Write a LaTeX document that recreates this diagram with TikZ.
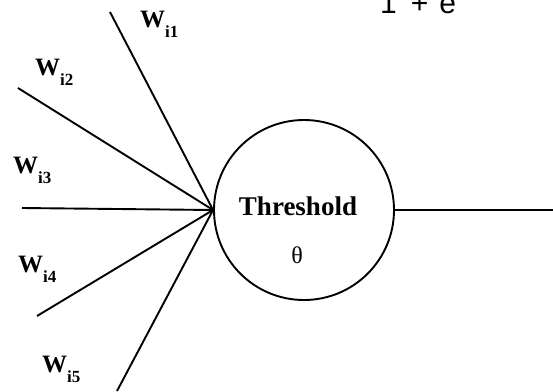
\documentclass[tikz,border=0pt]{standalone}
\usepackage{fontspec}
\setmainfont{Liberation Serif}
\newfontfamily\sigfont{Liberation Sans}
\usetikzlibrary{positioning}
\newcommand{\wsub}[1]{\textbf{W\raisebox{-10pt}{\fontsize{17}{17}\selectfont i#1}}}

\begin{document}
\begin{tikzpicture}[x=1pt,y=-1pt,
  wire/.style={line width=1.9pt},
  wlabel/.style={anchor=base west,inner sep=0pt,font=\fontsize{25}{25}\selectfont},
  unit/.style={circle,draw,line width=1.9pt,minimum size=180pt,inner sep=0pt}]
  \useasboundingbox (0,0) rectangle (553,391);
  % neuron
  \node[unit] (neuron) at (304,210) {};
  \node[font=\fontsize{27}{27}\selectfont\bfseries,anchor=base,inner sep=0pt] (thr) at (298,215) {Threshold};
  \node[font=\fontsize{24}{24}\selectfont,inner sep=0pt] (theta) at (297,255) {θ};
  % inputs
  \coordinate (in1) at (110,12);
  \coordinate (in2) at (18,88);
  \coordinate (in3) at (22,208);
  \coordinate (in4) at (37,316);
  \coordinate (in5) at (117,391);
  \foreach \i in {1,...,5} \draw[wire] (in\i) -- (neuron.west);
  % weights
  \node[wlabel] (w1) at (140,27) {\wsub{1}};
  \node[wlabel] (w2) at (35,75) {\wsub{2}};
  \node[wlabel] (w3) at (13,173) {\wsub{3}};
  \node[wlabel] (w4) at (18,272) {\wsub{4}};
  \node[wlabel] (w5) at (42,372) {\wsub{5}};
  % output
  \coordinate (out) at (553,210);
  \draw[wire] (neuron.east) -- (out);
  % sigmoid (cut off)
  \node[font=\sigfont\fontsize{30}{30}\selectfont,anchor=base west,inner sep=0pt] (sig) at (380,13) {1\hspace{14pt}+\hspace{11pt}e};
\end{tikzpicture}
\end{document}
